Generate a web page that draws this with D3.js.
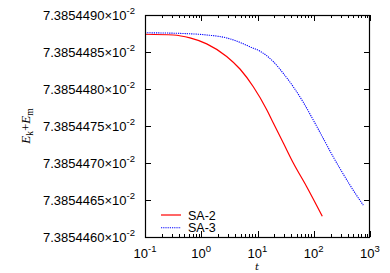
<!DOCTYPE html>
<html>
<head>
<meta charset="utf-8">
<script src="https://cdn.jsdelivr.net/npm/d3@7"></script>
<style>
  body { margin: 0; background: #fff; }
  svg { display: block; font-family: "Liberation Sans", Arial, sans-serif; }
</style>
</head>
<body>
<svg id="chart" width="390" height="273"></svg>
<script>
// values are in units of 10^-2
const seriesNames = ['SA-2', 'SA-3'];
const seriesColors = ['#ff0000', '#0000ff'];

const tSA2 = [0.1, 0.32, 0.63, 1.25, 2.83, 4.88, 8.42, 14.6, 19.1, 28.8, 43.3, 74.9, 142];
const eSA2 = [7.38544874, 7.38544873, 7.38544869, 7.38544861, 7.38544844, 7.38544827,
  7.38544803, 7.38544772, 7.38544754, 7.38544727, 7.38544700, 7.38544668, 7.38544628];

const tSA3 = [0.1, 0.48, 1.25, 2.83, 4.88, 7.36, 11.1, 19.1, 28.8, 43.3, 65.2, 98.2, 148, 223, 335, 505, 760];
const eSA3 = [7.38544876, 7.38544875, 7.38544873, 7.38544869, 7.38544863, 7.38544857,
  7.38544851, 7.38544837, 7.38544821, 7.38544803, 7.38544782, 7.38544758, 7.38544733,
  7.38544708, 7.38544685, 7.38544663, 7.38544643];

const yTicks = [7.3854460, 7.3854465, 7.3854470, 7.3854475, 7.3854480, 7.3854485, 7.3854490];
const xTicks = [0.1, 1, 10, 100, 1000];
const xTickExp = ['-1', '0', '1', '2', '3'];

const svg = d3.select('#chart');
const pLeft = 145, pRight = 370, pTop = 15, pBottom = 237;

const x = d3.scaleLog().domain([0.1, 1000]).range([pLeft, pRight]);
const y = d3.scaleLinear().domain([7.3854460, 7.3854490]).range([pBottom, pTop]);

// minor ticks of the log axis
const minor = [];
for (let p = -1; p < 3; p++) {
  for (let k = 2; k <= 9; k++) minor.push(k * Math.pow(10, p));
}

const ticks = svg.append('g').attr('stroke', '#000').attr('stroke-width', 1);
minor.forEach(v => {
  const px = Math.round(x(v)) + 0.5;
  ticks.append('line').attr('x1', px).attr('x2', px).attr('y1', pBottom).attr('y2', pBottom - 3);
  ticks.append('line').attr('x1', px).attr('x2', px).attr('y1', pTop).attr('y2', pTop + 3);
});
xTicks.forEach(v => {
  const px = Math.round(x(v)) + 0.5;
  ticks.append('line').attr('x1', px).attr('x2', px).attr('y1', pBottom).attr('y2', pBottom - 6);
  ticks.append('line').attr('x1', px).attr('x2', px).attr('y1', pTop).attr('y2', pTop + 6);
});
yTicks.forEach(v => {
  const py = Math.round(y(v)) + 0.5;
  ticks.append('line').attr('x1', pLeft).attr('x2', pLeft + 6).attr('y1', py).attr('y2', py);
  ticks.append('line').attr('x1', pRight).attr('x2', pRight - 6).attr('y1', py).attr('y2', py);
});

// curves
const line = d3.line()
  .x(d => x(d[0]))
  .y(d => y(d[1]))
  .curve(d3.curveMonotoneX);

const data = [d3.zip(tSA2, eSA2), d3.zip(tSA3, eSA3)];
svg.append('path')
  .datum(data[0])
  .attr('fill', 'none')
  .attr('stroke', seriesColors[0])
  .attr('stroke-width', 1.2)
  .attr('d', line);
svg.append('path')
  .datum(data[1])
  .attr('fill', 'none')
  .attr('stroke', seriesColors[1])
  .attr('stroke-width', 1.1)
  .attr('stroke-dasharray', '1.2,1')
  .attr('d', line);

// frame
svg.append('rect')
  .attr('x', pLeft + 0.5).attr('y', pTop + 0.5)
  .attr('width', pRight - pLeft - 1).attr('height', pBottom - pTop)
  .attr('fill', 'none').attr('stroke', '#000').attr('stroke-width', 1.2);

// y tick labels
yTicks.forEach(v => {
  const t = svg.append('text')
    .attr('x', 135)
    .attr('y', y(v) + 5)
    .attr('text-anchor', 'end')
    .attr('font-size', 13)
    .attr('fill', '#000');
  t.append('tspan').text(v.toFixed(7) + '×10');
  t.append('tspan').attr('dy', -6).attr('font-size', 9.5).text('-2');
});

// x tick labels
xTicks.forEach((v, i) => {
  const t = svg.append('text')
    .attr('x', x(v))
    .attr('y', 258)
    .attr('text-anchor', 'middle')
    .attr('font-size', 13)
    .attr('fill', '#000');
  t.append('tspan').text('10');
  t.append('tspan').attr('dy', -6).attr('font-size', 9.5).text(xTickExp[i]);
});

// axis titles
svg.append('text')
  .attr('x', 257)
  .attr('y', 270)
  .attr('text-anchor', 'middle')
  .attr('font-family', '"DejaVu Serif", "Liberation Serif", serif')
  .attr('font-style', 'italic')
  .attr('font-size', 10)
  .text('t');

const yl = svg.append('text')
  .attr('transform', 'translate(30,126) rotate(-90)')
  .attr('text-anchor', 'middle')
  .attr('font-family', '"Liberation Serif", "DejaVu Serif", serif')
  .attr('font-size', 13);
yl.append('tspan').attr('font-style', 'italic').text('E');
yl.append('tspan').attr('dy', 3).attr('font-size', 9.5).text('k');
yl.append('tspan').attr('dy', -3).text('+');
yl.append('tspan').attr('font-style', 'italic').text('E');
yl.append('tspan').attr('dy', 3).attr('font-size', 9.5).text('m');

// legend
const legend = svg.append('g');
seriesNames.forEach((name, i) => {
  const ly = 215 + i * 12.7;
  legend.append('line')
    .attr('x1', 161).attr('x2', 181)
    .attr('y1', ly).attr('y2', ly)
    .attr('stroke', seriesColors[i])
    .attr('stroke-width', i === 0 ? 1.2 : 1.1)
    .attr('stroke-dasharray', i === 0 ? null : '1.2,1');
  legend.append('text')
    .attr('x', 188)
    .attr('y', ly + 4.5)
    .attr('font-size', 12.5)
    .text(name);
});
</script>
</body>
</html>
